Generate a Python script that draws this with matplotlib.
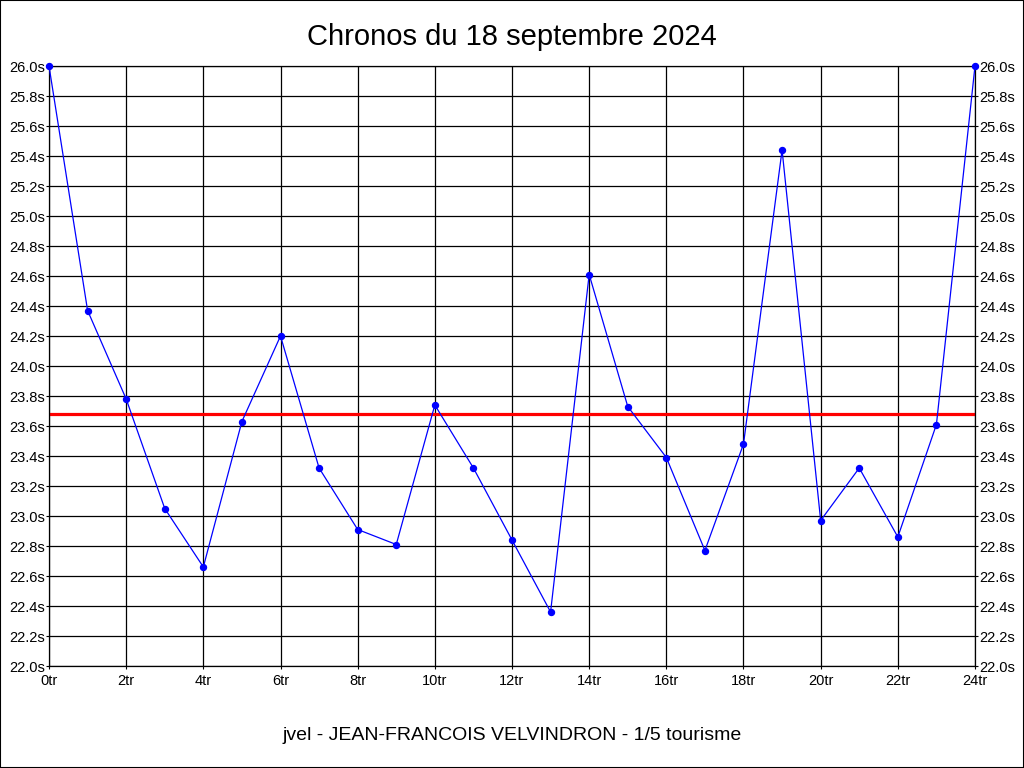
import matplotlib
matplotlib.use("Agg")
import matplotlib.pyplot as plt
from matplotlib.patches import Rectangle

plt.rcParams['font.family'] = ['Liberation Sans', 'DejaVu Sans']

title = "Chronos du 18 septembre 2024"
footer = "jvel - JEAN-FRANCOIS VELVINDRON - 1/5 tourisme"
laps = list(range(25))
times = [26.0, 24.37, 23.78, 23.05, 22.66, 23.63, 24.20, 23.32, 22.91, 22.81,
         23.74, 23.32, 22.84, 22.36, 24.61, 23.73, 23.39, 22.77, 23.48, 25.44,
         22.97, 23.32, 22.86, 23.61, 26.0]
mean_time = 23.68
y_ticks = [22.0 + 0.2 * i for i in range(21)]
x_ticks = list(range(0, 25, 2))

fig = plt.figure(figsize=(10.24, 7.68), dpi=100)
fig.patches.append(Rectangle((0, 0), 1, 1, transform=fig.transFigure,
                             fill=False, edgecolor='black', linewidth=1.5))
ax = fig.add_axes([49/1024, 1-666/768, (975-49)/1024, 600/768])
ax.set_xlim(0, 24)
ax.set_ylim(22.0, 26.0)
ax.set_yticks(y_ticks)
ax.set_yticklabels([f"{v:.1f}s" for v in y_ticks])
ax.set_xticks(x_ticks)
ax.set_xticklabels([f"{v}tr" for v in x_ticks])
ax.grid(True, color='black', linewidth=0.9)
ax.set_axisbelow(True)
for s in ax.spines.values():
    s.set_color('black')
    s.set_linewidth(0.9)
ax.tick_params(axis='both', labelsize=10.5, length=2, colors='black', pad=1)
ax.tick_params(axis='x', pad=4)
ax.tick_params(axis='y', labelright=True, right=True)

ax.axhline(mean_time, color='#ff0000', linewidth=2.3, zorder=2)
ax.plot(laps, times, color='#0000ff', linewidth=0.9, marker='o',
        markersize=4.3, zorder=3, clip_on=False)

fig.text(512/1024, 1-37/768, title, ha='center', va='center', fontsize=21)
fig.text(512/1024, 1-735/768, footer, ha='center', va='center', fontsize=14)

fig.savefig("out.png", dpi=100)
